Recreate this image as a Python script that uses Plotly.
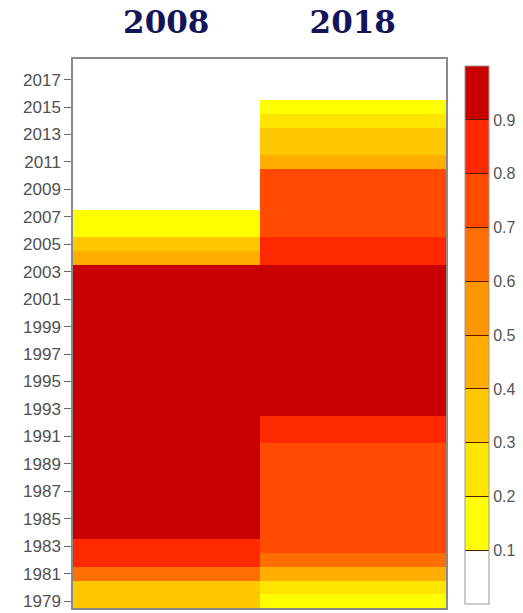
import plotly.graph_objects as go

# Data
columns = ["2008", "2018"]
years = list(range(1979, 2019))  # 1979 .. 2018

# values per year (1979 -> 2018); None = no value (white)
col_2008 = [
    0.35, 0.35, 0.65, 0.85, 0.85,             # 1979-1983
    0.95, 0.95, 0.95, 0.95, 0.95, 0.95, 0.95,  # 1984-1990
    0.95, 0.95, 0.95, 0.95, 0.95, 0.95, 0.95,  # 1991-1997
    0.95, 0.95, 0.95, 0.95, 0.95, 0.95,        # 1998-2003
    0.45, 0.35, 0.15, 0.15,                    # 2004-2007
    None, None, None, None, None, None, None, None, None, None, None,  # 2008-2018
]
col_2018 = [
    0.15, 0.25, 0.45, 0.65, 0.75,             # 1979-1983
    0.75, 0.75, 0.75, 0.75, 0.75, 0.75, 0.75,  # 1984-1990
    0.85, 0.85,                                # 1991-1992
    0.95, 0.95, 0.95, 0.95, 0.95, 0.95, 0.95, 0.95, 0.95, 0.95, 0.95,  # 1993-2003
    0.85, 0.85,                                # 2004-2005
    0.75, 0.75, 0.75, 0.75, 0.75,              # 2006-2010
    0.45, 0.35, 0.35, 0.25, 0.15,              # 2011-2015
    None, None, None,                          # 2016-2018
]

bin_colors = ["#ffffff", "#ffff00", "#ffe400", "#ffc800", "#ffae00",
              "#ff9600", "#ff6e00", "#ff4a00", "#ff2800", "#c80000"]
colorbar_ticks = [0.1, 0.2, 0.3, 0.4, 0.5, 0.6, 0.7, 0.8, 0.9]
ytick_years = list(range(1979, 2018, 2))

colorscale = []
n = len(bin_colors)
for i, c in enumerate(bin_colors):
    colorscale.append([i / n, c])
    colorscale.append([(i + 1) / n, c])

z = [[a, b] for a, b in zip(col_2008, col_2018)]

fig = go.Figure(go.Heatmap(
    x=columns, y=years, z=z,
    zmin=0, zmax=1,
    colorscale=colorscale,
    xgap=0, ygap=0,
    colorbar=dict(
        xref="container", x=465 / 523, xanchor="left", xpad=0,
        yref="paper", y=0.497, yanchor="middle", ypad=0,
        len=0.98, lenmode="fraction",
        thickness=24, thicknessmode="pixels",
        tickvals=colorbar_ticks,
        ticktext=[f"{v:.1f}" for v in colorbar_ticks],
        ticks="inside", ticklen=24, tickcolor="#5a1a00", tickwidth=1.2,
        tickfont=dict(family="Liberation Sans", size=16, color="#555555"),
        outlinecolor="#999999", outlinewidth=1,
    ),
))

fig.update_layout(
    width=523, height=613,
    margin=dict(l=73, r=77, t=59, b=5, autoexpand=False),
    paper_bgcolor="white", plot_bgcolor="white",
    xaxis=dict(
        side="top", type="category",
        tickfont=dict(family="DejaVu Serif", size=31, color="#14145a", weight="bold"),
        ticks="outside", ticklen=12, tickcolor="rgba(0,0,0,0)",
        showline=True, mirror=True, linecolor="#8a8a8a", linewidth=1.5,
        showgrid=False, zeroline=False,
    ),
    yaxis=dict(
        range=[1978.5, 2018.5],
        tickvals=ytick_years,
        ticktext=[str(v) for v in ytick_years],
        tickfont=dict(family="Liberation Sans", size=17, color="#505050"),
        ticks="outside", ticklen=7, tickcolor="#666666", tickwidth=1.2,
        showline=True, mirror=True, linecolor="#8a8a8a", linewidth=1.5,
        showgrid=False, zeroline=False,
    ),
)

fig.write_html("out.html")
